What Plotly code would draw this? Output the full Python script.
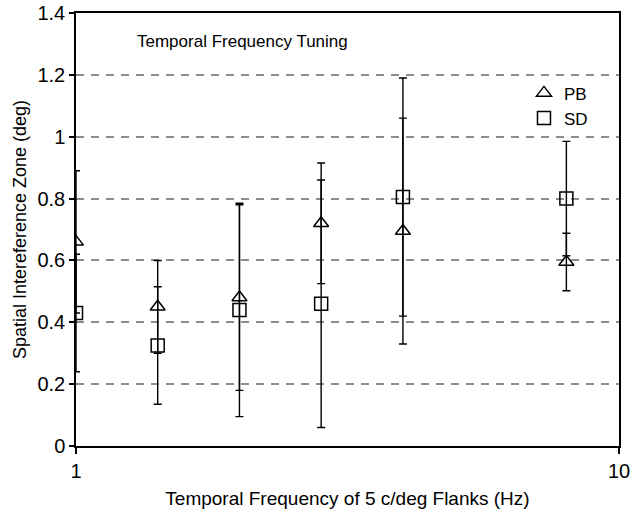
import plotly.graph_objects as go

# Data
freq_hz = [1.0, 1.414, 2.0, 2.828, 4.0, 8.0]
pb_values = [0.66, 0.45, 0.48, 0.72, 0.695, 0.595]
pb_errors = [0.23, 0.15, 0.30, 0.195, 0.365, 0.093]
sd_values = [0.43, 0.325, 0.44, 0.46, 0.805, 0.80]
sd_errors = [0.19, 0.19, 0.345, 0.40, 0.385, 0.185]

y_tick_vals = [0, 0.2, 0.4, 0.6, 0.8, 1.0, 1.2, 1.4]
y_tick_text = ["0", "0.2", "0.4", "0.6", "0.8", "1", "1.2", "1.4"]
x_tick_vals = [1, 10]
x_tick_text = ["1", "10"]

FONT = "Liberation Sans, Arial, sans-serif"

fig = go.Figure()
fig.add_trace(go.Scatter(
    x=freq_hz, y=pb_values, mode="markers", name="PB",
    marker=dict(symbol="triangle-up-open", size=13, color="black",
                line=dict(width=1.5, color="black")),
    error_y=dict(type="data", array=pb_errors, visible=True,
                 color="black", thickness=1.4, width=4),
))
fig.add_trace(go.Scatter(
    x=freq_hz, y=sd_values, mode="markers", name="SD",
    marker=dict(symbol="square-open", size=13, color="black",
                line=dict(width=1.5, color="black")),
    error_y=dict(type="data", array=sd_errors, visible=True,
                 color="black", thickness=1.4, width=4),
))

fig.add_annotation(
    text="Temporal Frequency Tuning", xref="paper", yref="paper",
    x=0.109, y=0.935, xanchor="left", yanchor="middle", showarrow=False,
    font=dict(family=FONT, size=17, color="black"),
)

fig.update_layout(
    width=642, height=509,
    margin=dict(l=76, r=23, t=13, b=63),
    paper_bgcolor="white", plot_bgcolor="white",
    font=dict(family=FONT, size=19, color="black"),
    showlegend=True,
    legend=dict(x=0.825, y=0.856, xanchor="left", yanchor="top",
                bgcolor="rgba(0,0,0,0)", itemsizing="trace",
                font=dict(family=FONT, size=17, color="black"),
                tracegroupgap=0),
    xaxis=dict(
        type="log", range=[0, 1], automargin=False,
        tickmode="array", tickvals=x_tick_vals, ticktext=x_tick_text,
        tickfont=dict(family=FONT, size=20),
        ticks="outside", ticklen=6, tickwidth=1.5, tickcolor="black",
        showline=True, linecolor="black", linewidth=1.5, mirror=True,
        showgrid=False, zeroline=False,
        title=dict(text="Temporal Frequency of 5 c/deg Flanks (Hz)",
                   font=dict(family=FONT, size=19), standoff=12),
    ),
    yaxis=dict(
        range=[0, 1.4], automargin=False,
        tickmode="array", tickvals=y_tick_vals, ticktext=y_tick_text,
        tickfont=dict(family=FONT, size=20),
        ticks="outside", ticklen=5, tickwidth=1.5, tickcolor="black",
        showline=True, linecolor="black", linewidth=1.5, mirror=True,
        showgrid=True, gridcolor="#8c8c8c", gridwidth=1.5, griddash="8px,7px",
        zeroline=False,
        title=dict(text="Spatial Intereference Zone (deg)",
                   font=dict(family=FONT, size=18), standoff=6),
    ),
)

# Remove the browser's default 8px page margin so the figure sits at (0, 0),
# and hide the interactive mode bar.
fig.write_html("out.html", config={"displayModeBar": False},
               post_script="document.body.style.margin='0';")
